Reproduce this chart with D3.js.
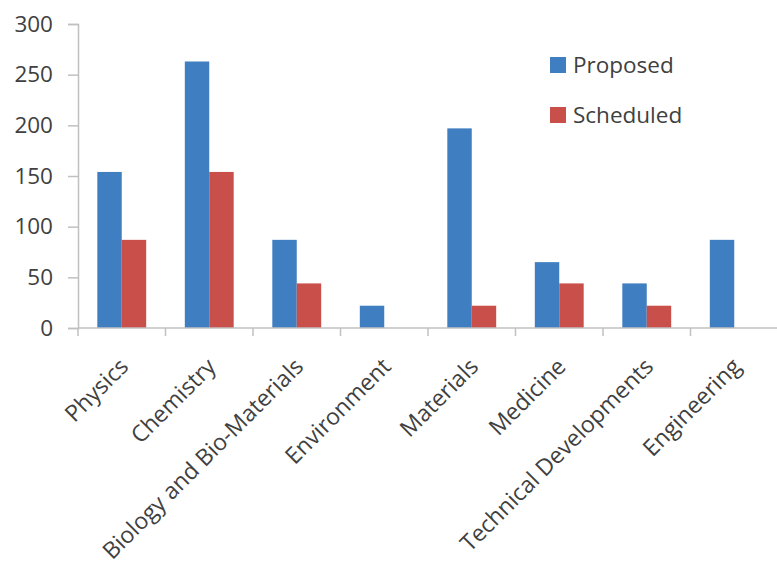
<!DOCTYPE html>
<html>
<head>
<meta charset="utf-8">
<script src="https://cdn.jsdelivr.net/npm/d3@7"></script>
<style>
  html, body { margin: 0; padding: 0; background: #fff; }
  svg text { font-family: "Open Sans", Lato, sans-serif; fill: #404040; }
</style>
</head>
<body>
<svg id="chart" width="777" height="569"></svg>
<script>
// Research areas and counts per series
const categories = ["Physics", "Chemistry", "Biology and Bio-Materials", "Environment",
                    "Materials", "Medicine", "Technical Developments", "Engineering"];
const proposed  = [154, 263, 87, 22, 197, 65, 44, 87];
const scheduled = [87, 154, 44, 0, 22, 44, 22, 0];
const seriesNames = ["Proposed", "Scheduled"];
const yTicks = [0, 50, 100, 150, 200, 250, 300];

const colors = { Proposed: "#3f7fc1", Scheduled: "#c9504a" };

const svg = d3.select("#chart");
const plot = { left: 78, right: 778, top: 24, bottom: 328 };

const x = d3.scaleBand().domain(categories).range([plot.left, plot.right]).paddingInner(0).paddingOuter(0);
const x1 = d3.scaleBand().domain(seriesNames).range([0, x.bandwidth()]).paddingOuter(0.79).paddingInner(0);
const y = d3.scaleLinear().domain([0, 300]).range([plot.bottom, plot.top]);

const rows = categories.map((c, i) => ({ cat: c, Proposed: proposed[i], Scheduled: scheduled[i] }));

// bars
const groups = svg.append("g").selectAll("g").data(rows).join("g")
  .attr("transform", d => `translate(${x(d.cat)},0)`);
groups.selectAll("rect")
  .data(d => seriesNames.map(s => ({ s, v: d[s] })).filter(e => e.v > 0))
  .join("rect")
  .attr("x", e => x1(e.s))
  .attr("width", x1.bandwidth())
  .attr("y", e => y(e.v))
  .attr("height", e => y(0) - y(e.v))
  .attr("fill", e => colors[e.s]);

// y axis
const yAxis = svg.append("g").attr("transform", `translate(${plot.left},0)`)
  .call(d3.axisLeft(y).tickValues(yTicks).tickSize(10).tickPadding(15));
yAxis.select(".domain").attr("stroke", "#c0c0c0").attr("stroke-width", 1.5);
yAxis.selectAll(".tick line").attr("stroke", "#c0c0c0").attr("stroke-width", 1.5);
yAxis.selectAll(".tick text").attr("font-size", 22.5).attr("fill", "#404040");

// x axis: tick marks at category boundaries
const xAxisG = svg.append("g").attr("transform", `translate(0,${plot.bottom})`);
xAxisG.append("line").attr("x1", plot.left).attr("x2", plot.right)
  .attr("stroke", "#c0c0c0").attr("stroke-width", 1.5);
xAxisG.selectAll("line.tk").data(categories).join("line").attr("class", "tk")
  .attr("x1", d => x(d)).attr("x2", d => x(d)).attr("y1", 0).attr("y2", 8)
  .attr("stroke", "#c0c0c0").attr("stroke-width", 1.5);
xAxisG.selectAll("text").data(categories).join("text")
  .attr("transform", d => `translate(${x(d) + x.bandwidth() / 2 + 8},${40}) rotate(-45)`)
  .attr("text-anchor", "end")
  .attr("font-size", 23)
  .attr("fill", "#404040")
  .text(d => d);

// legend
const legend = svg.append("g").selectAll("g").data(seriesNames).join("g")
  .attr("transform", (d, i) => `translate(550,${57 + i * 50})`);
legend.append("rect").attr("width", 16).attr("height", 16).attr("fill", d => colors[d]);
legend.append("text").attr("x", 23).attr("y", 16).attr("font-size", 22.5).attr("fill", "#404040").text(d => d);
</script>
</body>
</html>
